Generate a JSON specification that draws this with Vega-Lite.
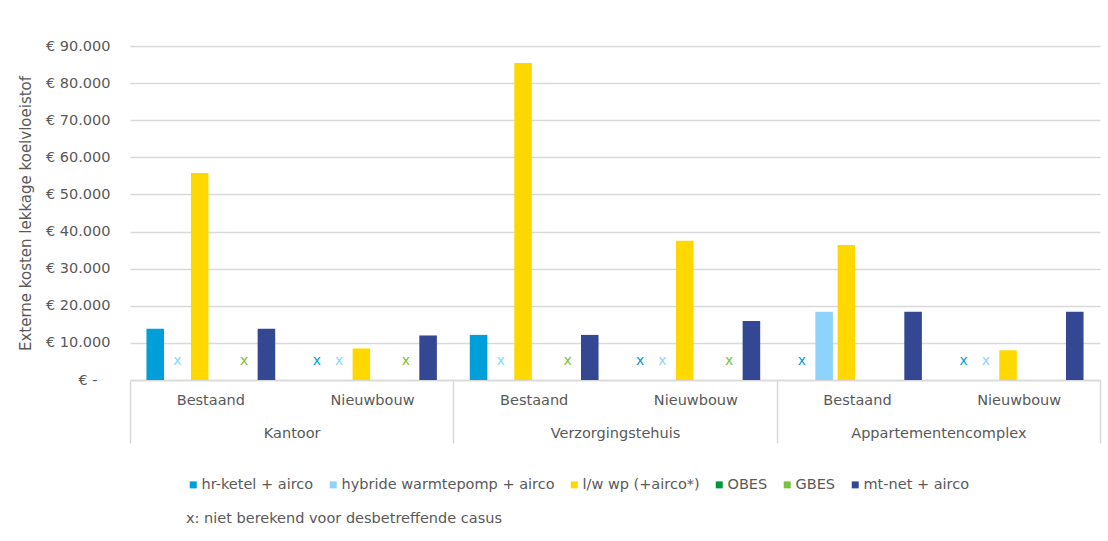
{
  "$schema": "https://vega.github.io/schema/vega-lite/v6.json",
  "width": 970,
  "height": 334,
  "autosize": {"type": "none"},
  "padding": {"left": 130, "top": 46, "right": 8, "bottom": 161},
  "background": "white",
  "data": {
    "values": [
      {"gebouw": "Kantoor", "casus": "Kantoor|Bestaand", "variant": "hr-ketel + airco", "kosten": 13800, "status": ""},
      {"gebouw": "Kantoor", "casus": "Kantoor|Bestaand", "variant": "hybride warmtepomp + airco", "kosten": null, "status": "x"},
      {"gebouw": "Kantoor", "casus": "Kantoor|Bestaand", "variant": "l/w wp (+airco*)", "kosten": 55800, "status": ""},
      {"gebouw": "Kantoor", "casus": "Kantoor|Bestaand", "variant": "OBES", "kosten": null, "status": ""},
      {"gebouw": "Kantoor", "casus": "Kantoor|Bestaand", "variant": "GBES", "kosten": null, "status": "x"},
      {"gebouw": "Kantoor", "casus": "Kantoor|Bestaand", "variant": "mt-net + airco", "kosten": 13800, "status": ""},

      {"gebouw": "Kantoor", "casus": "Kantoor|Nieuwbouw", "variant": "hr-ketel + airco", "kosten": null, "status": "x"},
      {"gebouw": "Kantoor", "casus": "Kantoor|Nieuwbouw", "variant": "hybride warmtepomp + airco", "kosten": null, "status": "x"},
      {"gebouw": "Kantoor", "casus": "Kantoor|Nieuwbouw", "variant": "l/w wp (+airco*)", "kosten": 8500, "status": ""},
      {"gebouw": "Kantoor", "casus": "Kantoor|Nieuwbouw", "variant": "OBES", "kosten": null, "status": ""},
      {"gebouw": "Kantoor", "casus": "Kantoor|Nieuwbouw", "variant": "GBES", "kosten": null, "status": "x"},
      {"gebouw": "Kantoor", "casus": "Kantoor|Nieuwbouw", "variant": "mt-net + airco", "kosten": 12000, "status": ""},

      {"gebouw": "Verzorgingstehuis", "casus": "Verzorgingstehuis|Bestaand", "variant": "hr-ketel + airco", "kosten": 12150, "status": ""},
      {"gebouw": "Verzorgingstehuis", "casus": "Verzorgingstehuis|Bestaand", "variant": "hybride warmtepomp + airco", "kosten": null, "status": "x"},
      {"gebouw": "Verzorgingstehuis", "casus": "Verzorgingstehuis|Bestaand", "variant": "l/w wp (+airco*)", "kosten": 85400, "status": ""},
      {"gebouw": "Verzorgingstehuis", "casus": "Verzorgingstehuis|Bestaand", "variant": "OBES", "kosten": null, "status": ""},
      {"gebouw": "Verzorgingstehuis", "casus": "Verzorgingstehuis|Bestaand", "variant": "GBES", "kosten": null, "status": "x"},
      {"gebouw": "Verzorgingstehuis", "casus": "Verzorgingstehuis|Bestaand", "variant": "mt-net + airco", "kosten": 12150, "status": ""},

      {"gebouw": "Verzorgingstehuis", "casus": "Verzorgingstehuis|Nieuwbouw", "variant": "hr-ketel + airco", "kosten": null, "status": "x"},
      {"gebouw": "Verzorgingstehuis", "casus": "Verzorgingstehuis|Nieuwbouw", "variant": "hybride warmtepomp + airco", "kosten": null, "status": "x"},
      {"gebouw": "Verzorgingstehuis", "casus": "Verzorgingstehuis|Nieuwbouw", "variant": "l/w wp (+airco*)", "kosten": 37500, "status": ""},
      {"gebouw": "Verzorgingstehuis", "casus": "Verzorgingstehuis|Nieuwbouw", "variant": "OBES", "kosten": null, "status": ""},
      {"gebouw": "Verzorgingstehuis", "casus": "Verzorgingstehuis|Nieuwbouw", "variant": "GBES", "kosten": null, "status": "x"},
      {"gebouw": "Verzorgingstehuis", "casus": "Verzorgingstehuis|Nieuwbouw", "variant": "mt-net + airco", "kosten": 15900, "status": ""},

      {"gebouw": "Appartementencomplex", "casus": "Appartementencomplex|Bestaand", "variant": "hr-ketel + airco", "kosten": null, "status": "x"},
      {"gebouw": "Appartementencomplex", "casus": "Appartementencomplex|Bestaand", "variant": "hybride warmtepomp + airco", "kosten": 18400, "status": ""},
      {"gebouw": "Appartementencomplex", "casus": "Appartementencomplex|Bestaand", "variant": "l/w wp (+airco*)", "kosten": 36400, "status": ""},
      {"gebouw": "Appartementencomplex", "casus": "Appartementencomplex|Bestaand", "variant": "OBES", "kosten": null, "status": ""},
      {"gebouw": "Appartementencomplex", "casus": "Appartementencomplex|Bestaand", "variant": "GBES", "kosten": null, "status": ""},
      {"gebouw": "Appartementencomplex", "casus": "Appartementencomplex|Bestaand", "variant": "mt-net + airco", "kosten": 18400, "status": ""},

      {"gebouw": "Appartementencomplex", "casus": "Appartementencomplex|Nieuwbouw", "variant": "hr-ketel + airco", "kosten": null, "status": "x"},
      {"gebouw": "Appartementencomplex", "casus": "Appartementencomplex|Nieuwbouw", "variant": "hybride warmtepomp + airco", "kosten": null, "status": "x"},
      {"gebouw": "Appartementencomplex", "casus": "Appartementencomplex|Nieuwbouw", "variant": "l/w wp (+airco*)", "kosten": 8000, "status": ""},
      {"gebouw": "Appartementencomplex", "casus": "Appartementencomplex|Nieuwbouw", "variant": "OBES", "kosten": null, "status": ""},
      {"gebouw": "Appartementencomplex", "casus": "Appartementencomplex|Nieuwbouw", "variant": "GBES", "kosten": null, "status": ""},
      {"gebouw": "Appartementencomplex", "casus": "Appartementencomplex|Nieuwbouw", "variant": "mt-net + airco", "kosten": 18400, "status": ""}
    ]
  },
  "layer": [
    {
      "encoding": {
        "x": {
          "field": "casus",
          "type": "nominal",
          "scale": {
            "domain": ["Kantoor|Bestaand", "Kantoor|Nieuwbouw", "Verzorgingstehuis|Bestaand", "Verzorgingstehuis|Nieuwbouw", "Appartementencomplex|Bestaand", "Appartementencomplex|Nieuwbouw"],
            "paddingInner": 0,
            "paddingOuter": 0
          },
          "axis": {
            "orient": "bottom",
            "title": null,
            "labelExpr": "split(datum.value, '|')[1]",
            "labelAngle": 0,
            "ticks": false,
            "labelPadding": 13,
            "domain": true,
            "domainColor": "#d9d9d9",
            "domainWidth": 1.5,
            "grid": false
          }
        },
        "xOffset": {
          "field": "variant",
          "type": "nominal",
          "scale": {
            "domain": ["hr-ketel + airco", "hybride warmtepomp + airco", "l/w wp (+airco*)", "OBES", "GBES", "mt-net + airco"],
            "paddingInner": 0.21,
            "paddingOuter": 0.74
          }
        }
      },
      "layer": [
        {
          "mark": {"type": "bar"},
          "encoding": {
            "y": {
              "field": "kosten",
              "type": "quantitative",
              "scale": {"domain": [0, 90000], "nice": false},
              "axis": {
                "title": "Externe kosten lekkage koelvloeistof",
                "titleX": -105,
                "titleY": 167,
                "titleAngle": -90,
                "titleAlign": "center",
                "titleBaseline": "middle",
                "values": [0, 10000, 20000, 30000, 40000, 50000, 60000, 70000, 80000, 90000],
                "labelExpr": "datum.value == 0 ? '€ -' : '€ ' + replace(format(datum.value, ',.0f'), ',', '.')",
                "labelOverlap": false,
                "domain": false,
                "ticks": false,
                "labelPadding": {"condition": {"test": "datum.value == 0", "value": 33}, "value": 20},
                "grid": true,
                "gridColor": "#d9d9d9",
                "gridWidth": 1.5
              }
            },
            "color": {
              "field": "variant",
              "type": "nominal",
              "scale": {
                "domain": ["hr-ketel + airco", "hybride warmtepomp + airco", "l/w wp (+airco*)", "OBES", "GBES", "mt-net + airco"],
                "range": ["#009FDA", "#8ED3FC", "#FFD800", "#00963F", "#7CC242", "#344792"]
              },
              "legend": {
                "orient": "none",
                "legendX": 56,
                "legendY": 431.5,
                "direction": "horizontal",
                "title": "x: niet berekend voor desbetreffende casus",
                "titleOrient": "bottom",
                "titleAnchor": "start",
                "symbolType": "square"
              }
            }
          }
        },
        {
          "transform": [{"filter": "datum.status == 'x'"}],
          "mark": {"type": "text", "fontSize": 14, "baseline": "middle", "align": "center"},
          "encoding": {
            "y": {
              "datum": 5000,
              "type": "quantitative",
              "axis": {
                "title": "Externe kosten lekkage koelvloeistof",
                "titleX": -105,
                "titleY": 167,
                "titleAngle": -90,
                "titleAlign": "center",
                "titleBaseline": "middle",
                "values": [0, 10000, 20000, 30000, 40000, 50000, 60000, 70000, 80000, 90000],
                "labelExpr": "datum.value == 0 ? '€ -' : '€ ' + replace(format(datum.value, ',.0f'), ',', '.')",
                "labelOverlap": false,
                "domain": false,
                "ticks": false,
                "labelPadding": {"condition": {"test": "datum.value == 0", "value": 33}, "value": 20},
                "grid": true,
                "gridColor": "#d9d9d9",
                "gridWidth": 1.5
              }
            },
            "text": {"field": "status"},
            "color": {"field": "variant", "type": "nominal", "legend": null}
          }
        }
      ]
    },
    {
      "mark": {"type": "point", "opacity": 0},
      "encoding": {
        "x": {
          "field": "gebouw",
          "type": "nominal",
          "sort": ["Kantoor", "Verzorgingstehuis", "Appartementencomplex"],
          "scale": {"paddingInner": 0, "paddingOuter": 0},
          "axis": {
            "orient": "bottom",
            "title": null,
            "labelAngle": 0,
            "domain": false,
            "grid": false,
            "ticks": true,
            "tickBand": "extent",
            "tickSize": 63,
            "tickColor": "#d9d9d9",
            "tickWidth": 1.5,
            "labelPadding": -16.5
          }
        }
      }
    }
  ],
  "resolve": {"scale": {"x": "independent"}, "axis": {"x": "independent"}},
  "config": {
    "font": "DejaVu Sans",
    "view": {"stroke": null},
    "axis": {
      "labelFont": "DejaVu Sans",
      "labelFontSize": 14.5,
      "labelColor": "#595959",
      "titleFont": "DejaVu Sans",
      "titleFontSize": 15,
      "titleFontWeight": "normal",
      "titleColor": "#595959"
    },
    "legend": {
      "padding": 0,
      "labelFont": "DejaVu Sans",
      "labelFontSize": 14.5,
      "labelColor": "#595959",
      "labelLimit": 400,
      "labelOffset": 1,
      "columnPadding": 12,
      "symbolSize": 49,
      "symbolStrokeWidth": 0,
      "titleFont": "DejaVu Sans",
      "titleFontSize": 14.5,
      "titleFontWeight": "normal",
      "titleColor": "#595959",
      "titleLimit": 600,
      "titlePadding": 20
    },
    "text": {"font": "DejaVu Sans"}
  }
}
